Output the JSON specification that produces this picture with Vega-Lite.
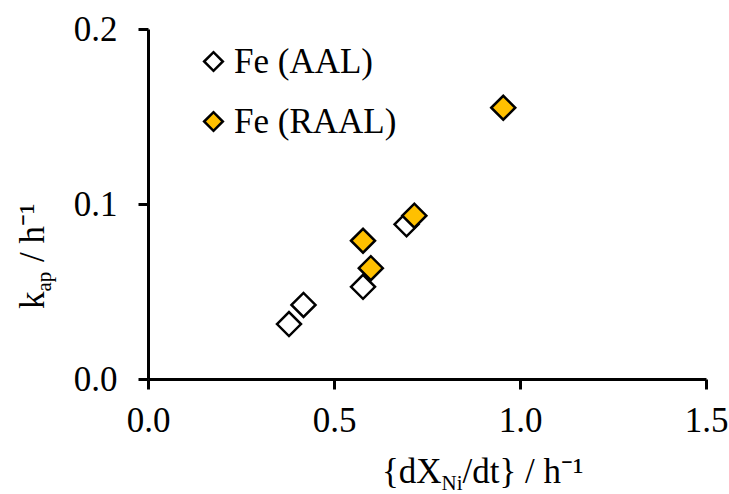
{
  "$schema": "https://vega.github.io/schema/vega-lite/v6.json",
  "width": 558,
  "height": 350,
  "autosize": "none",
  "padding": {"left": 148, "top": 29, "right": 23, "bottom": 115},
  "background": "white",
  "config": {
    "view": {"stroke": null},
    "font": "Liberation Serif, Times New Roman, serif",
    "axis": {
      "grid": false,
      "labelFont": "Liberation Serif, Times New Roman, serif",
      "titleFont": "Liberation Serif, Times New Roman, serif",
      "labelColor": "black",
      "titleColor": "black",
      "domainColor": "black",
      "tickColor": "black",
      "titleFontWeight": "normal",
      "labelFontSize": 35,
      "titleFontSize": 35,
      "domainWidth": 3,
      "tickWidth": 3,
      "tickSize": 10,
      "labelFlush": false,
      "labelOverlap": false,
      "labelBound": false
    },
    "legend": {
      "labelFont": "Liberation Serif, Times New Roman, serif",
      "labelFontSize": 35,
      "labelLimit": 500
    }
  },
  "data": {
    "values": [
      {"series": "Fe (AAL)", "rate": 0.379, "kap": 0.0314},
      {"series": "Fe (AAL)", "rate": 0.418, "kap": 0.0423},
      {"series": "Fe (AAL)", "rate": 0.578, "kap": 0.0527},
      {"series": "Fe (AAL)", "rate": 0.695, "kap": 0.0884},
      {"series": "Fe (RAAL)", "rate": 0.578, "kap": 0.079},
      {"series": "Fe (RAAL)", "rate": 0.599, "kap": 0.0633},
      {"series": "Fe (RAAL)", "rate": 0.716, "kap": 0.0933},
      {"series": "Fe (RAAL)", "rate": 0.955, "kap": 0.155}
    ]
  },
  "layer": [
    {
      "mark": {"type": "point", "shape": "diamond", "filled": true, "size": 576, "stroke": "black", "strokeWidth": 2.5, "opacity": 1},
      "encoding": {
        "x": {
          "field": "rate", "type": "quantitative",
          "scale": {"domain": [0, 1.5], "nice": false, "zero": false},
          "axis": {
            "orient": "bottom",
            "values": [0, 0.5, 1, 1.5], "format": ".1f",
            "labelPadding": 14,
            "title": "{dX",
            "titleAlign": "right", "titleBaseline": "alphabetic",
            "titleX": 293, "titleY": 103
          }
        },
        "y": {
          "field": "kap", "type": "quantitative",
          "scale": {"domain": [0, 0.2], "nice": false, "zero": false},
          "axis": {
            "orient": "left",
            "values": [0, 0.1, 0.2], "format": ".1f",
            "labelPadding": 21,
            "title": "k",
            "titleAngle": 270,
            "titleAlign": "right", "titleBaseline": "alphabetic",
            "titleX": -105, "titleY": 262
          }
        },
        "fill": {
          "field": "series", "type": "nominal",
          "scale": {"domain": ["Fe (AAL)", "Fe (RAAL)"], "range": ["white", "#FFC000"]},
          "legend": {
            "orient": "none", "legendX": 48, "legendY": 15,
            "title": null,
            "symbolType": "diamond", "symbolSize": 350,
            "symbolStrokeColor": "black", "symbolStrokeWidth": 2.5, "symbolOpacity": 1,
            "labelFont": "Liberation Serif, Times New Roman, serif", "labelFontSize": 35, "labelColor": "black",
            "labelLimit": 500,
            "labelOffset": 3, "rowPadding": 24, "padding": 0
          }
        }
      }
    },
    {
      "transform": [{"filter": "false"}],
      "mark": {"type": "point", "opacity": 1},
      "encoding": {
        "x": {
          "field": "rate", "type": "quantitative",
          "axis": {
            "orient": "bottom", "domain": false, "ticks": false, "labels": false,
            "title": "Ni", "titleFontSize": 21,
            "titleAlign": "left", "titleBaseline": "alphabetic",
            "titleX": 293, "titleY": 110
          }
        },
        "y": {
          "field": "kap", "type": "quantitative",
          "axis": {
            "orient": "left", "domain": false, "ticks": false, "labels": false,
            "title": "ap", "titleFontSize": 21, "titleAngle": 270,
            "titleAlign": "left", "titleBaseline": "alphabetic",
            "titleX": -98, "titleY": 262
          }
        }
      }
    },
    {
      "transform": [{"filter": "false"}],
      "mark": {"type": "point", "opacity": 1},
      "encoding": {
        "x": {
          "field": "rate", "type": "quantitative",
          "axis": {
            "orient": "bottom", "domain": false, "ticks": false, "labels": false,
            "title": "/dt} / h⁻¹",
            "titleAlign": "left", "titleBaseline": "alphabetic",
            "titleX": 314, "titleY": 103
          }
        },
        "y": {
          "field": "kap", "type": "quantitative",
          "axis": {
            "orient": "left", "domain": false, "ticks": false, "labels": false,
            "title": "/ h⁻¹", "titleAngle": 270,
            "titleAlign": "left", "titleBaseline": "alphabetic",
            "titleX": -105, "titleY": 232.5
          }
        }
      }
    }
  ],
  "resolve": {"axis": {"x": "independent", "y": "independent"}}
}
